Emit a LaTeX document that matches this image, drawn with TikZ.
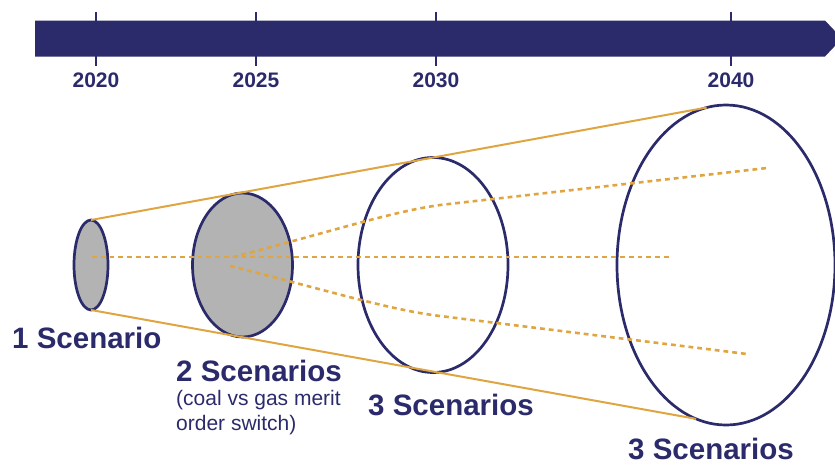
\documentclass[tikz,border=0pt]{standalone}
\usepackage{fontspec}
\setmainfont{Liberation Sans}
\usetikzlibrary{shapes.geometric}
\definecolor{navy}{RGB}{43,42,107}
\definecolor{gold}{RGB}{222,165,64}
\definecolor{fillgray}{RGB}{179,179,179}
\begin{document}
\begin{tikzpicture}[x=1pt,y=-1pt,
  ell/.style={ellipse,draw=navy,line width=2.7pt,inner sep=0pt,outer sep=0pt},
  cone/.style={draw=gold,line width=2pt},
  dotline/.style={draw=gold,line width=2.6pt,dash pattern=on 4.8pt off 4pt},
  tick/.style={draw=navy,line width=2pt},
  big/.style={font=\bfseries\fontsize{29.5}{34}\selectfont,text=navy,anchor=base west,inner sep=0pt},
  small/.style={font=\fontsize{21}{25}\selectfont,text=navy,anchor=base west,inner sep=0pt,align=left},
  year/.style={font=\bfseries\fontsize{21}{24}\selectfont,text=navy,anchor=base,inner sep=0pt}]
\useasboundingbox (0,0) rectangle (835,466);
\clip (0,0) rectangle (835,466);
% timeline bar
\fill[navy] (35,20.5) -- (825,20.5) -- (842,38.5) -- (825,56.5) -- (35,56.5) -- cycle;
\foreach \x/\lab in {96/2020,256/2025,436/2030,731/2040}{
  \coordinate (ta\lab) at (\x,12);
  \coordinate (tb\lab) at (\x,66);
  \draw[tick] (ta\lab) -- (tb\lab);
  \node[year] (y\lab) at (\x,87) {\lab};
}
% ellipses
\node[ell,fill=fillgray,minimum width=34pt,minimum height=90pt] (e1) at (91,265) {};
\node[ell,fill=fillgray,minimum width=100pt,minimum height=144pt] (e2) at (242.5,265) {};
\node[ell,minimum width=150pt,minimum height=215pt] (e3) at (433,265) {};
\node[ell,minimum width=218pt,minimum height=320pt] (e4) at (726,265) {};
% cone
\draw[cone] (e1.north) -- (e4.97.6);
\draw[cone] (e1.south) -- (e4.259.5);
% scenario paths
\coordinate (c0) at (92,257);
\coordinate (c1) at (672,257);
\coordinate (u0) at (233,257);
\coordinate (uk) at (440,205);
\coordinate (u1) at (767,168);
\coordinate (l0) at (230,266);
\coordinate (lk) at (440,316);
\coordinate (l1) at (747,354);
\draw[dotline] (c0) -- (c1);
\draw[dotline] (u0) .. controls (330,232) and (390,212) .. (uk) -- (u1);
\draw[dotline] (l0) .. controls (330,291) and (390,310) .. (lk) -- (l1);
% labels
\node[big] (s1) at (12,348) {1 Scenario};
\node[big] (s2) at (176,381) {2 Scenarios};
\node[small] (s2a) at (176,405) {(coal vs gas merit};
\node[small] (s2b) at (176,430) {order switch)};
\node[big] (s3) at (368,415) {3 Scenarios};
\node[big] (s4) at (628,459) {3 Scenarios};
\end{tikzpicture}
\end{document}
